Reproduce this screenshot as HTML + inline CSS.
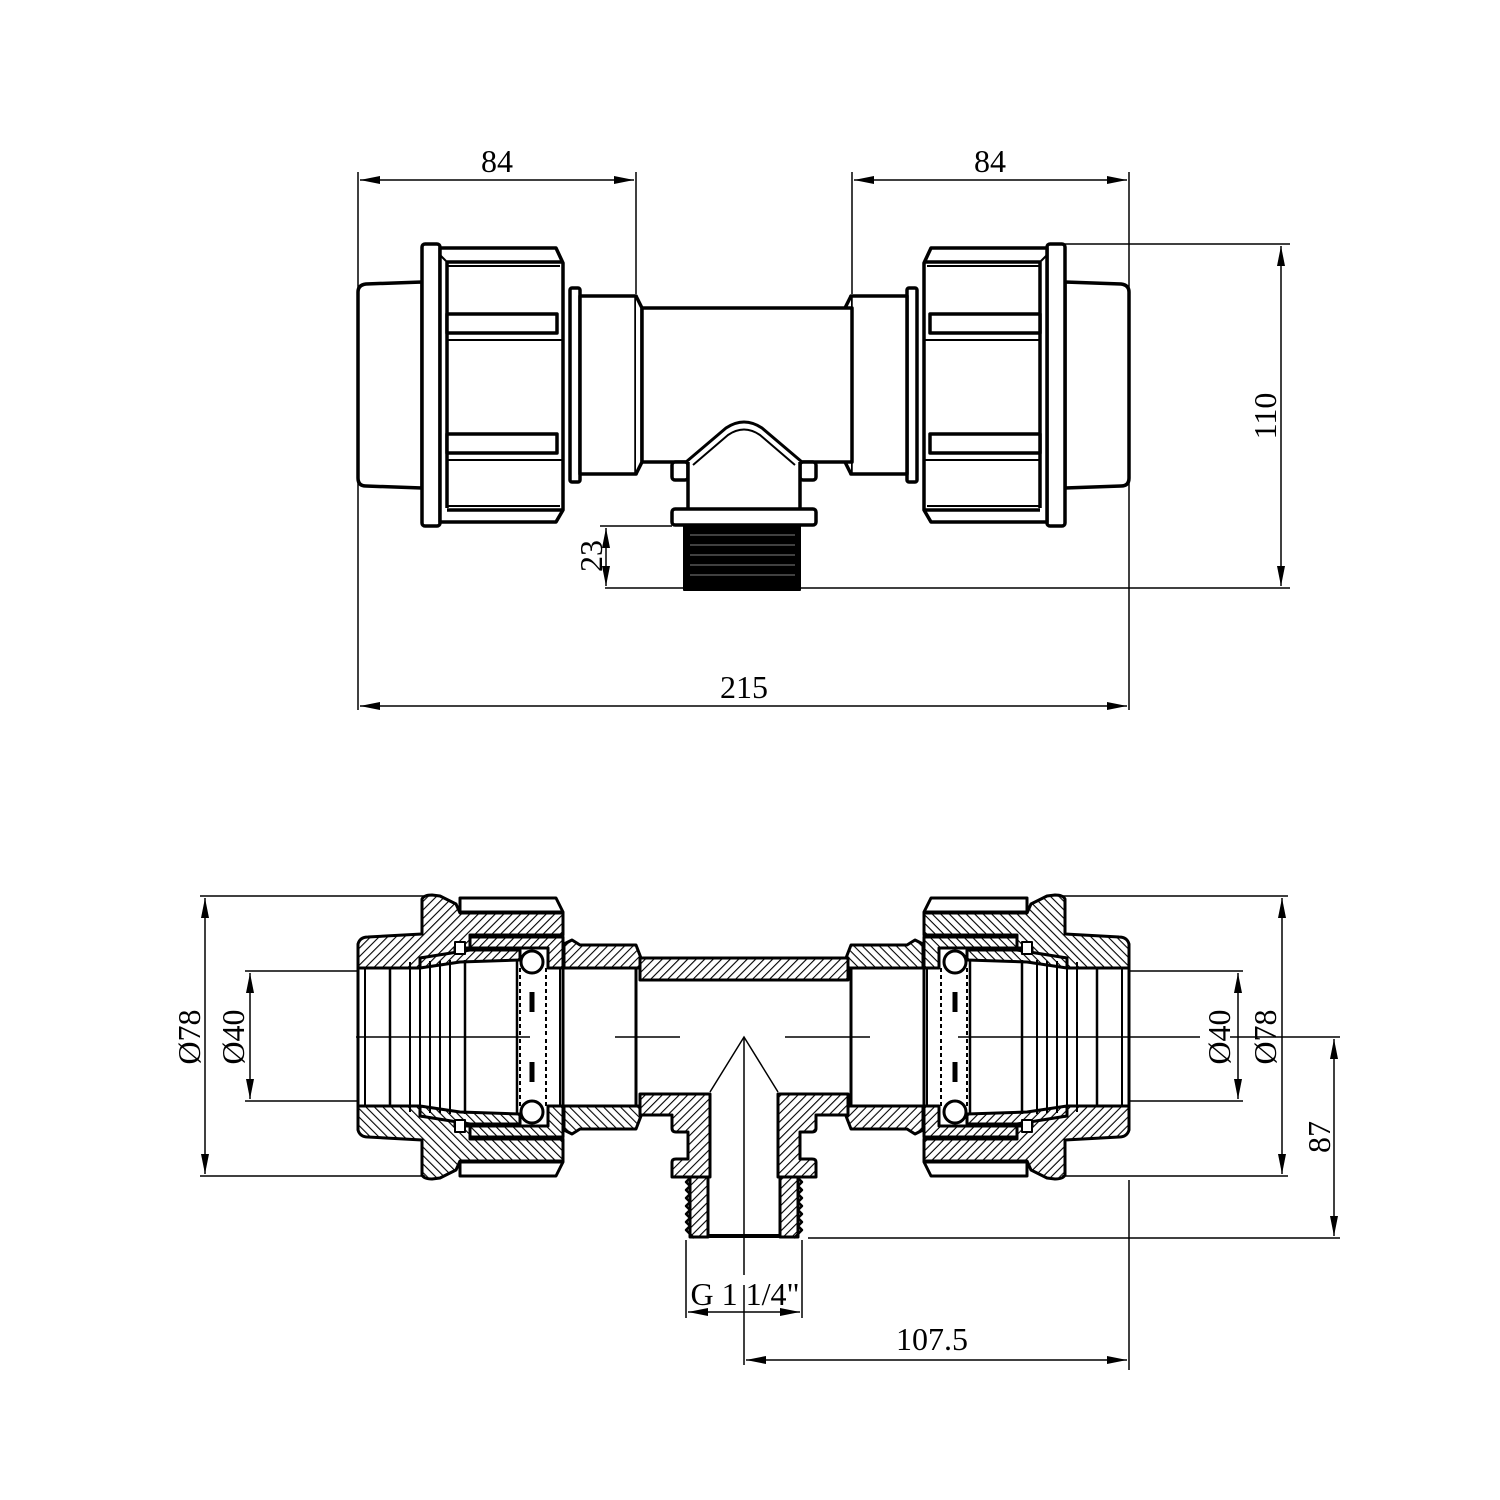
<!DOCTYPE html>
<html><head><meta charset="utf-8"><style>
html,body{margin:0;padding:0;background:#fff}
svg{display:block}
text{font-family:"Liberation Serif",serif;font-size:32px;fill:#000}
</style></head><body>
<svg width="1500" height="1500" viewBox="0 0 1500 1500" xmlns="http://www.w3.org/2000/svg">
<defs>
<marker id="a" viewBox="0 0 20 8" refX="20" refY="4" markerWidth="20" markerHeight="8" markerUnits="userSpaceOnUse" orient="auto-start-reverse"><path d="M0,0 L20,4 L0,8 z" fill="#000"/></marker>
<pattern id="h" patternUnits="userSpaceOnUse" width="6" height="6" patternTransform="rotate(45)"><rect width="6" height="6" fill="#fff"/><line x1="0" y1="0" x2="0" y2="6" stroke="#000" stroke-width="2.2"/></pattern>
</defs>

<!-- ========== TOP VIEW ========== -->
<g fill="#fff" stroke="#000" stroke-width="3.5" stroke-linejoin="round">
<g id="endTop">
  <path d="M422,282 L366,284 Q358,285 358,292 L358,478 Q358,486 366,486 L422,488 Z"/>
  <rect x="422" y="244" width="18" height="282" rx="3"/>
  <path d="M440,248 L556,248 L563,263 L563,510 L556,522 L440,522 Z"/>
  <line x1="447" y1="262" x2="447" y2="508"/>
  <line x1="447" y1="262" x2="562" y2="262"/>
  <line x1="440" y1="255" x2="447" y2="262" stroke-width="2"/>
  <line x1="447" y1="266" x2="560" y2="266" stroke-width="2"/>
  <line x1="447" y1="510" x2="562" y2="510"/>
  <line x1="447" y1="506" x2="560" y2="506" stroke-width="2"/>
  <rect x="447" y="314" width="110" height="19"/>
  <rect x="447" y="434" width="110" height="19"/>
  <line x1="447" y1="340" x2="562" y2="340" stroke-width="2"/>
  <line x1="447" y1="460" x2="562" y2="460" stroke-width="2"/>
  <rect x="570" y="288" width="10" height="194" rx="2"/>
  <rect x="580" y="296" width="56" height="178"/>
  <path d="M636,296 L642,308 L642,462 L636,474"/>
</g>
<use href="#endTop" transform="matrix(-1,0,0,1,1487,0)"/>
<rect x="642" y="308" width="210" height="154"/>
<rect x="672" y="462" width="16" height="18" rx="3"/>
<rect x="800" y="462" width="16" height="18" rx="3"/>
<rect x="688" y="462" width="112" height="48" stroke="none"/>
<line x1="688" y1="462" x2="688" y2="510"/>
<line x1="800" y1="462" x2="800" y2="510"/>
<path d="M686,462 L726,428 Q744,416 762,428 L802,462" stroke-width="3"/>
<path d="M693,465 L728,435 Q744,424 760,435 L795,465" stroke-width="2"/>
<rect x="672" y="509" width="144" height="16" rx="3"/>
<rect x="684" y="526" width="116" height="64" fill="#000" stroke="#000" stroke-width="2"/>
</g>
<g stroke="#555" stroke-width="1.5">
<line x1="690" y1="535" x2="795" y2="535"/><line x1="690" y1="545" x2="795" y2="545"/><line x1="690" y1="555" x2="795" y2="555"/><line x1="690" y1="565" x2="795" y2="565"/><line x1="690" y1="575" x2="795" y2="575"/>
</g>

<g stroke="#000" stroke-width="1.5" fill="none">
<line x1="358" y1="172" x2="358" y2="710"/>
<line x1="636" y1="172" x2="636" y2="294"/>
<line x1="852" y1="172" x2="852" y2="294"/>
<line x1="1129" y1="172" x2="1129" y2="710"/>
<line x1="360" y1="180" x2="634" y2="180" marker-start="url(#a)" marker-end="url(#a)"/>
<line x1="854" y1="180" x2="1127" y2="180" marker-start="url(#a)" marker-end="url(#a)"/>
<line x1="1050" y1="244" x2="1290" y2="244"/>
<line x1="605" y1="588" x2="1290" y2="588"/>
<line x1="1281" y1="246" x2="1281" y2="586" marker-start="url(#a)" marker-end="url(#a)"/>
<line x1="600" y1="526" x2="672" y2="526"/>
<line x1="606" y1="528" x2="606" y2="586" marker-start="url(#a)" marker-end="url(#a)"/>
<line x1="360" y1="706" x2="1127" y2="706" marker-start="url(#a)" marker-end="url(#a)"/>
</g>
<text x="497" y="172" text-anchor="middle">84</text>
<text x="990" y="172" text-anchor="middle">84</text>
<text x="744" y="698" text-anchor="middle">215</text>
<text transform="translate(1276,416) rotate(-90)" text-anchor="middle">110</text>
<text transform="translate(602,556) rotate(-90)" text-anchor="middle">23</text>

<!-- ========== SECTION VIEW ========== -->
<g stroke="#000" stroke-width="3" stroke-linejoin="round">
<g id="secQ">
  <path fill="url(#h)" d="M358,968 L358,944 Q360,937 368,937 L422,934 L422,899 Q424,895 432,895 L440,896 L456,904 L460,913 L563,913 L563,935 L470,935 L470,948 L455,948 L455,955 L420,958 L420,968 Z"/>
  <path fill="#fff" d="M460,898 L556,898 L563,912 L460,912 Z"/>
  <path fill="url(#h)" d="M470,937 L563,937 L563,968 L548,968 L548,948 L470,948 Z"/>
  <path fill="url(#h)" d="M420,958 L470,950 L520,950 L520,960 L460,962 L420,968 Z"/>
  <rect x="455" y="942" width="10" height="12" fill="#fff" stroke-width="2"/>
  <path fill="url(#h)" d="M564,968 L564,944 L572,940 L580,945 L636,945 L641,958 L641,968 Z"/>
  <line x1="365" y1="968" x2="365" y2="1037" stroke-width="2"/>
  <line x1="390" y1="968" x2="390" y2="1037" stroke-width="2.5"/>
  <line x1="410" y1="962" x2="410" y2="1037" stroke-width="2"/>
  <line x1="420" y1="962" x2="420" y2="1037" stroke-width="2"/>
  <line x1="430" y1="961" x2="430" y2="1037" stroke-width="2"/>
  <line x1="440" y1="961" x2="440" y2="1037" stroke-width="2"/>
  <line x1="450" y1="960" x2="450" y2="1037" stroke-width="2"/>
  <line x1="465" y1="960" x2="465" y2="1037" stroke-width="2.5"/>
  <line x1="517" y1="960" x2="517" y2="1037" stroke-width="2.5"/>
  <line x1="520" y1="968" x2="520" y2="1037" stroke-width="2" stroke-dasharray="4,3"/>
  <line x1="546" y1="968" x2="546" y2="1037" stroke-width="2" stroke-dasharray="4,3"/>
  <line x1="563" y1="968" x2="563" y2="1037" stroke-width="3"/>
  <line x1="560" y1="968" x2="560" y2="1037" stroke-width="2"/>
  <line x1="636" y1="968" x2="636" y2="1037" stroke-width="3"/>
  <circle cx="532" cy="962" r="11" fill="#fff"/>
  <line x1="532" y1="992" x2="532" y2="1012" stroke-width="5"/>
</g>
<use href="#secQ" transform="matrix(1,0,0,-1,0,2074)"/>
<use href="#secQ" transform="matrix(-1,0,0,1,1487,0)"/>
<use href="#secQ" transform="matrix(-1,0,0,-1,1487,2074)"/>
<line x1="358" y1="968" x2="358" y2="1106"/>
<line x1="1129" y1="968" x2="1129" y2="1106"/>
<rect x="640" y="958" width="208" height="22" fill="url(#h)"/>
<path fill="url(#h)" d="M640,1094 L710,1094 L710,1177 L672,1177 L672,1162 Q672,1159 676,1159 L688,1159 L688,1132 L676,1132 Q672,1132 672,1128 L672,1115 L640,1115 Z"/>
<path fill="url(#h)" d="M848,1094 L778,1094 L778,1177 L816,1177 L816,1162 Q816,1159 812,1159 L800,1159 L800,1132 L812,1132 Q816,1132 816,1128 L816,1115 L848,1115 Z"/>
<rect x="690" y="1177" width="18" height="60" fill="url(#h)"/>
<rect x="780" y="1177" width="18" height="60" fill="url(#h)"/>
<line x1="708" y1="1236" x2="780" y2="1236" stroke-width="4"/>
<path d="M690,1178 l-4,4 l4,4 l-4,4 l4,4 l-4,4 l4,4 l-4,4 l4,4 l-4,4 l4,4 l-4,4 l4,4 l-4,4 l4,4 l4,4" fill="none" stroke-width="2.5"/>
<path d="M798,1178 l4,4 l-4,4 l4,4 l-4,4 l4,4 l-4,4 l4,4 l-4,4 l4,4 l-4,4 l4,4 l-4,4 l4,4 l-4,4 l-4,4" fill="none" stroke-width="2.5"/>
</g>
<g stroke="#000" stroke-width="1.5" fill="none">
<path d="M710,1092 L744,1037 L778,1092"/>
<line x1="744" y1="1037" x2="744" y2="1275"/>
<line x1="744" y1="1285" x2="744" y2="1365"/>
<line x1="615" y1="1037" x2="680" y2="1037"/>
<line x1="785" y1="1037" x2="870" y2="1037"/>
<line x1="356" y1="1037" x2="530" y2="1037"/>
<line x1="958" y1="1037" x2="1200" y2="1037"/>
<line x1="1230" y1="1037" x2="1290" y2="1037"/>
<line x1="1290" y1="1037" x2="1340" y2="1037"/>
<line x1="200" y1="896" x2="425" y2="896"/>
<line x1="200" y1="1176" x2="425" y2="1176"/>
<line x1="245" y1="971" x2="358" y2="971"/>
<line x1="245" y1="1101" x2="358" y2="1101"/>
<line x1="205" y1="898" x2="205" y2="1174" marker-start="url(#a)" marker-end="url(#a)"/>
<line x1="250" y1="973" x2="250" y2="1099" marker-start="url(#a)" marker-end="url(#a)"/>
<line x1="1062" y1="896" x2="1288" y2="896"/>
<line x1="1062" y1="1176" x2="1288" y2="1176"/>
<line x1="1129" y1="971" x2="1243" y2="971"/>
<line x1="1129" y1="1101" x2="1243" y2="1101"/>
<line x1="1282" y1="898" x2="1282" y2="1174" marker-start="url(#a)" marker-end="url(#a)"/>
<line x1="1238" y1="973" x2="1238" y2="1099" marker-start="url(#a)" marker-end="url(#a)"/>
<line x1="808" y1="1238" x2="1340" y2="1238"/>
<line x1="1334" y1="1039" x2="1334" y2="1236" marker-start="url(#a)" marker-end="url(#a)"/>
<line x1="1129" y1="1180" x2="1129" y2="1370"/>
<line x1="686" y1="1240" x2="686" y2="1318"/>
<line x1="802" y1="1240" x2="802" y2="1318"/>
<line x1="688" y1="1312" x2="800" y2="1312" marker-start="url(#a)" marker-end="url(#a)"/>
<line x1="746" y1="1360" x2="1127" y2="1360" marker-start="url(#a)" marker-end="url(#a)"/>
</g>
<text transform="translate(200,1037) rotate(-90)" text-anchor="middle">Ø78</text>
<text transform="translate(244,1037) rotate(-90)" text-anchor="middle">Ø40</text>
<text transform="translate(1230,1037) rotate(-90)" text-anchor="middle">Ø40</text>
<text transform="translate(1276,1037) rotate(-90)" text-anchor="middle">Ø78</text>
<text transform="translate(1330,1137) rotate(-90)" text-anchor="middle">87</text>
<text x="745" y="1305" text-anchor="middle">G 1 1/4"</text>
<text x="932" y="1350" text-anchor="middle">107.5</text>
</svg>
</body></html>
